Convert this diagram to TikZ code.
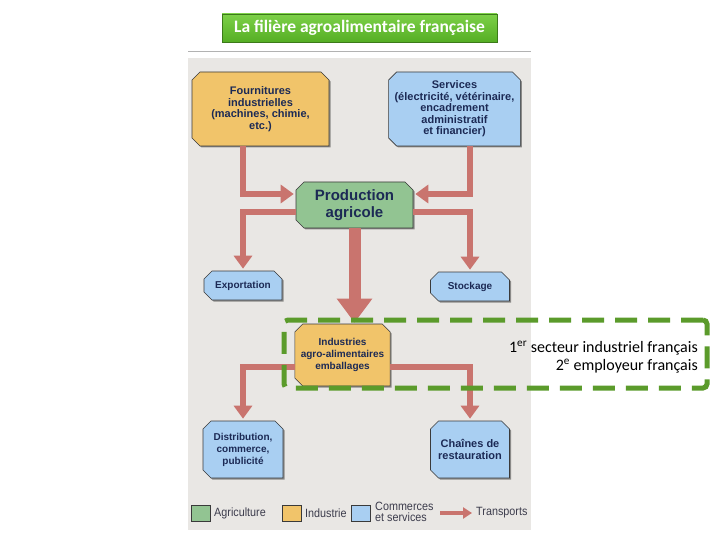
\documentclass[tikz,border=0pt]{standalone}
\usepackage{fontspec}
\setmainfont{Carlito}
\newfontfamily\boxfont{Liberation Sans}
\newfontfamily\cond[FakeStretch=0.9]{Liberation Sans}
\usetikzlibrary{arrows.meta, shapes.misc, shadows}

\definecolor{paper}{HTML}{E9E7E4}
\definecolor{flowred}{HTML}{C9746E}
\definecolor{agri}{HTML}{92C492}
\definecolor{indus}{HTML}{F1C46A}
\definecolor{servc}{HTML}{A9CFF2}
\definecolor{navy}{HTML}{1C2A55}
\definecolor{boxedge}{HTML}{3A3A3A}
\definecolor{grpgreen}{HTML}{5B9B2B}
\definecolor{legtext}{HTML}{3C3C4C}
\definecolor{titletop}{HTML}{7DD148}
\definecolor{titlebot}{HTML}{55AE24}

\tikzset{
  cube/.style={chamfered rectangle, chamfered rectangle corners={north west,south west,north east},
    chamfered rectangle xsep=4pt, chamfered rectangle ysep=4pt, draw=boxedge, line width=0.6pt,
    text=navy, align=center, inner sep=2pt, font=\boxfont\bfseries\fontsize{11}{11.5}\selectfont,
    drop shadow={shadow xshift=1.5pt, shadow yshift=-1.5pt, opacity=0.4, fill=black}},
  small/.style={font=\boxfont\bfseries\fontsize{10}{12}\selectfont},
  flow/.style={draw=flowred, line width=6pt, -{Triangle[width=18pt,length=13pt]}, shorten >=2pt},
  bigflow/.style={draw=flowred, line width=12pt, -{Triangle[width=34pt,length=24pt]}, shorten >=1pt},
  grpbox/.style={draw=grpgreen, line width=5pt, dash pattern=on 22pt off 11pt, rounded corners=4pt},
  legend/.style={text=legtext, font=\cond\fontsize{12}{11}\selectfont, align=left, inner sep=0pt},
  mini/.style={chamfered rectangle, chamfered rectangle corners={north west,south west},
    chamfered rectangle xsep=4pt, chamfered rectangle ysep=4pt, draw=boxedge, line width=0.4pt,
    minimum width=19pt, minimum height=16pt, inner sep=0pt}
}

\begin{document}
\begin{tikzpicture}[x=1pt, y=-1pt]
  \useasboundingbox (0,0) rectangle (720,540);

  \node[top color=titletop, bottom color=titlebot, draw=titlebot!70!black,
    minimum width=275pt, minimum height=28pt, text=white, font=\bfseries\fontsize{17.5}{18}\selectfont,
    drop shadow={shadow xshift=0pt, shadow yshift=-1.5pt, opacity=0.35}] (title) at (359.5,28) {La filière agroalimentaire française};
  \draw[gray!60, line width=0.8pt] (188,51) -- (531,51);

  \fill[paper] (188,58) rectangle (531,530);

  \node[cube, fill=indus, minimum width=137pt, minimum height=74pt] (four) at (260.5,109)
    {Fournitures\\industrielles\\(machines, chimie,\\etc.)};
  \node[cube, fill=servc, minimum width=131pt, minimum height=74pt] (serv) at (454.5,109)
    {Services\\(électricité, vétérinaire,\\encadrement\\administratif\\et financier)};
  \node[cube, fill=agri, minimum width=117pt, minimum height=46pt,
    font=\boxfont\bfseries\fontsize{15}{17}\selectfont] (prod) at (354.5,205) {Production\\agricole};
  \node[cube, small, fill=servc, minimum width=78pt, minimum height=29pt] (export) at (243,285.5) {Exportation};
  \node[cube, small, fill=servc, minimum width=79pt, minimum height=29pt] (stock) at (470,286.5) {Stockage};
  \node[cube, small, fill=indus, minimum width=91pt, minimum height=62pt] (iaa) at (342.5,355)
    {Industries\\agro-alimentaires\\emballages};
  \node[cube, small, fill=servc, minimum width=80pt, minimum height=57pt] (distrib) at (243,449.5)
    {Distribution,\\commerce,\\publicité};
  \node[cube, small, fill=servc, minimum width=79pt, minimum height=57pt,
    font=\boxfont\bfseries\fontsize{11}{12}\selectfont] (chaines) at (470,449.5)
    {Chaînes de\\restauration};

  \draw[flow] (four.south -| export.north) |- ([yshift=11pt]prod.west);
  \draw[flow] (serv.south -| stock.north) |- ([yshift=11pt]prod.east);
  \draw[flow] ([yshift=-7pt]prod.west) -| (export.north);
  \draw[flow] ([yshift=-7pt]prod.east) -| (stock.north);
  \draw[bigflow] (prod.south) -- (prod.south |- iaa.north);
  \draw[flow] ([yshift=-12pt]iaa.west) -| (distrib.north);
  \draw[flow] ([yshift=-12pt]iaa.east) -| (chaines.north);

  \node[grpbox, minimum width=423pt, minimum height=68pt] (grp) at (495.5,354) {};
  \node[anchor=east, align=right, font=\fontsize{16}{18}\selectfont, inner sep=0pt] (note) at (698,357)
    {1\textsuperscript{er} secteur industriel français\\2\textsuperscript{e} employeur français};

  \node[mini, fill=agri] (lagri) at (201,513) {};
  \node[legend, anchor=west] (tagri) at (214,513) {Agriculture};
  \node[mini, fill=indus] (lind) at (292,513) {};
  \node[legend, anchor=west] (tind) at (305,513) {Industrie};
  \node[mini, fill=servc] (lserv) at (361,513) {};
  \node[legend, anchor=west] (tserv) at (375,512) {Commerces\\et services};
  \coordinate (ltail) at (440,513);
  \node[legend, anchor=west] (ttrans) at (476,513) {Transports};
  \draw[draw=flowred, line width=4pt, -{Triangle[width=11pt,length=9pt]}] (ltail) -- ([xshift=-4pt]ttrans.west);
\end{tikzpicture}
\end{document}
